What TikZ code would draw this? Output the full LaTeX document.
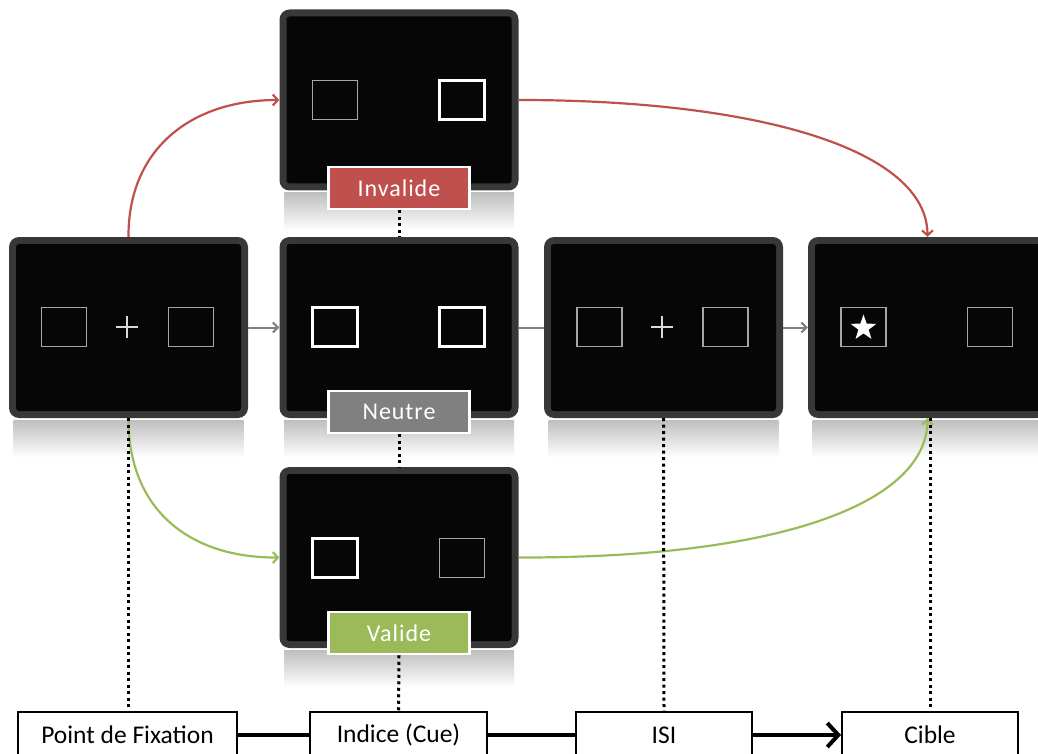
\documentclass[tikz,border=0pt]{standalone}
\usepackage{fontspec}
\setmainfont{Carlito}
\usetikzlibrary{arrows.meta,shapes.geometric}
\definecolor{redc}{HTML}{C0504D}
\definecolor{greenc}{HTML}{9BBB59}
\definecolor{grayc}{HTML}{808080}
\definecolor{framec}{HTML}{383838}
\definecolor{innerc}{HTML}{060606}
\tikzset{
  screen/.style={fill=framec, rounded corners=10pt, minimum width=239pt, minimum height=181pt, inner sep=0pt,
    path picture={\fill[innerc, rounded corners=3pt] ([shift={(7pt,7pt)}]path picture bounding box.south west) rectangle ([shift={(-7pt,-7pt)}]path picture bounding box.north east);}},
  sqdim/.style={draw=black!35, line width=1.3pt, minimum width=45pt, minimum height=39pt, inner sep=0pt},
  sqbright/.style={draw=white, line width=2.3pt, minimum width=45pt, minimum height=39pt, inner sep=0pt},
  crossline/.style={white!85!black, line width=1.8pt},
  lab/.style={draw=white, line width=2.5pt, text=white, minimum width=141pt, minimum height=42pt, inner sep=0pt, font=\fontsize{24}{24}\selectfont\addfontfeature{LetterSpace=4}},
  botbox/.style={draw=black, line width=2pt, fill=white, minimum height=46pt, inner sep=0pt, font=\fontsize{25.5}{26}\selectfont},
  dotline/.style={line width=3pt, dash pattern=on 3pt off 3.5pt},
  grayarrow/.style={grayc, line width=2pt, -{Straight Barb[length=5pt,width=10pt,line width=2pt]}},
  redarrow/.style={redc, line width=2.2pt, -{Straight Barb[length=5pt,width=11pt,line width=2.2pt]}},
  greenarrow/.style={greenc, line width=2.2pt, -{Straight Barb[length=5pt,width=11pt,line width=2.2pt]}},
  timeline/.style={black, line width=4pt},
  refl/.style={top color=black!25, bottom color=white}
}
\begin{document}
\begin{tikzpicture}[x=1pt,y=-1pt]
\clip (0,0) rectangle (1038,754);
\fill[white] (0,0) rectangle (1038,754);
% reflections
\foreach \cx/\cy in {128.5/327.5, 399/100, 399/327.5, 399/557.5, 663.5/327.5, 927.5/327.5}{
  \shade[refl] (\cx-115,\cy+93) rectangle (\cx+115,\cy+130);
}
% screens
\node[screen] (fix) at (128.5,327.5) {};
\node[screen] (inv) at (399,100) {};
\node[screen] (neu) at (399,327.5) {};
\node[screen] (val) at (399,557.5) {};
\node[screen] (isi) at (663.5,327.5) {};
\node[screen] (cib) at (927.5,327.5) {};
% squares
\node[sqdim] (f1) at (64,327) {};
\node[sqdim] (f2) at (191,327) {};
\draw[crossline] (116,327) -- (138,327) (127,316) -- (127,338);
\node[sqdim] (i1) at (335,100) {};
\node[sqbright] (i2) at (462,100) {};
\node[sqbright] (n1) at (335,327) {};
\node[sqbright] (n2) at (462,327) {};
\node[sqbright] (v1) at (335,558) {};
\node[sqdim] (v2) at (462,558) {};
\node[sqdim] (s1) at (599.5,327) {};
\node[sqdim] (s2) at (725.5,327) {};
\draw[crossline] (651,327) -- (673,327) (662,316) -- (662,338);
\node[sqdim] (c1) at (863.5,327) {};
\node[sqdim] (c2) at (990,327) {};
\node[star, star points=5, star point ratio=2.5, fill=white, minimum size=27pt, inner sep=0pt] (st) at (863.5,328) {};
% gray arrows
\draw[grayarrow] (fix.east) -- (neu.west);
\draw[grayc, line width=2pt] (neu.east) -- (isi.west);
\draw[grayarrow] (isi.east) -- (cib.west);
% coloured curves
\draw[redarrow] (fix.north) .. controls (128,150) and (190,100) .. (inv.west);
\draw[redarrow] (inv.east) .. controls (760,100) and (927,150) .. (cib.north);
\draw[greenarrow] (fix.south) .. controls (128,510) and (190,558) .. (val.west);
\draw[greenarrow] (val.east) .. controls (790,558) and (927,500) .. (cib.south);
% labels
\node[lab, fill=redc] (linv) at (399,188) {Invalide};
\node[lab, fill=grayc] (lneu) at (399,412) {Neutre};
\node[lab, fill=greenc] (lval) at (399,633) {Valide};
% bottom boxes
\node[botbox, minimum width=219pt] (bpf) at (127.5,735) {Point de Fixation};
\node[botbox, minimum width=177pt] (bind) at (398.5,735) {Indice (Cue)};
\node[botbox, minimum width=176pt] (bisi) at (664,735) {ISI};
\node[botbox, minimum width=176pt] (bcib) at (930,735) {Cible};
% dotted lines
\draw[dotline] (fix.south) -- (fix.south |- bpf.north);
\draw[dotline] (linv.south) -- (neu.north);
\draw[dotline] (lneu.south) -- (val.north);
\draw[dotline] (lval.south) -- (bind.north);
\draw[dotline] (isi.south) -- (bisi.north);
\draw[dotline] (cib.south -| bcib.north) -- (bcib.north);
% timeline
\draw[timeline] (bpf.east) -- (bind.west);
\draw[timeline] (bind.east) -- (bisi.west);
\draw[timeline, -{Straight Barb[length=11pt,width=24pt,line width=4pt]}] (bisi.east) -- (bcib.west);
\end{tikzpicture}
\end{document}
